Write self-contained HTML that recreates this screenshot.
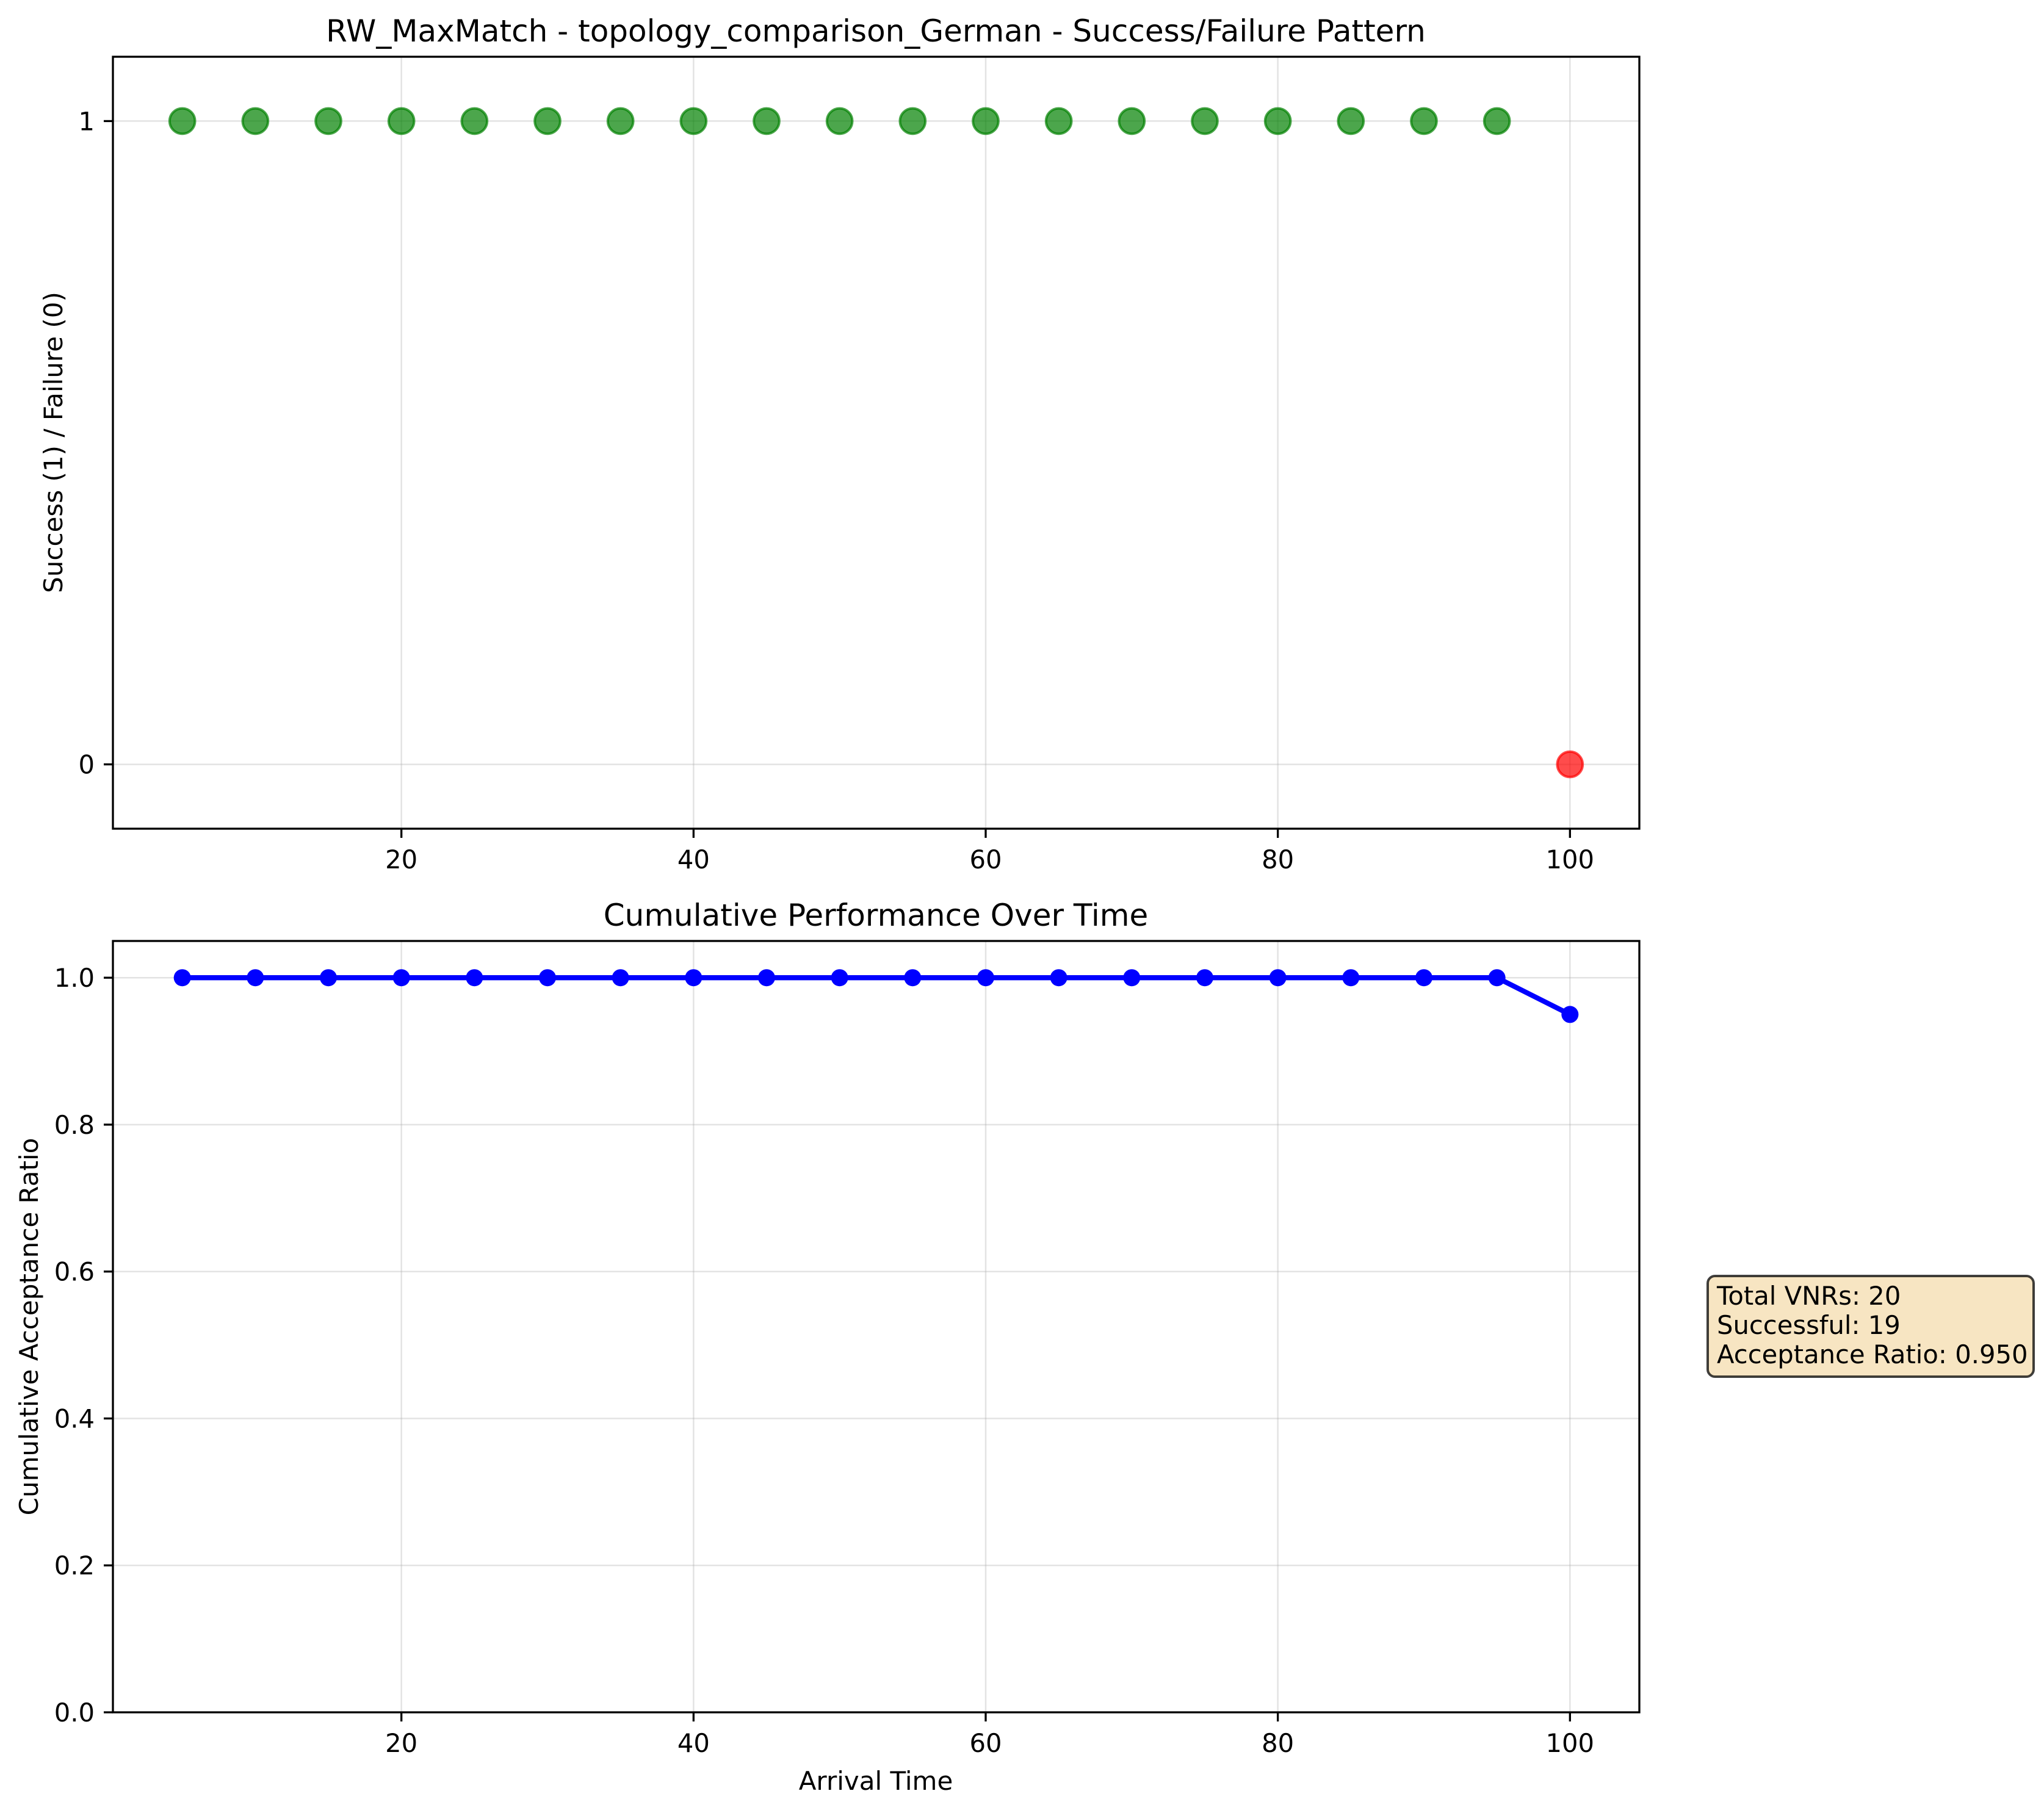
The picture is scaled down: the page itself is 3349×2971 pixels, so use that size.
<!DOCTYPE html>
<html><head><meta charset="utf-8"><style>
html,body{margin:0;padding:0;background:#fff;}
svg text{font-family:"DejaVu Sans","Liberation Sans",sans-serif;fill:#000;}
</style></head><body>
<svg id="chart" width="3349" height="2966" viewBox="0 0 3349 2966" xmlns="http://www.w3.org/2000/svg">
<g id="top"></g>
<g id="bot"></g>
<text x="1435" y="68" font-size="50" text-anchor="middle">RW_MaxMatch - topology_comparison_German - Success/Failure Pattern</text>
<text x="1435" y="1517" font-size="50" text-anchor="middle">Cumulative Performance Over Time</text>
<text transform="translate(102,725) rotate(-90)" font-size="42" text-anchor="middle">Success (1) / Failure (0)</text>
<text transform="translate(62,2174) rotate(-90)" font-size="42" text-anchor="middle">Cumulative Acceptance Ratio</text>
<text x="1435" y="2933" font-size="42" text-anchor="middle">Arrival Time</text>
<g>
<rect x="2798" y="2091" width="534" height="165" rx="12" fill="#f5deb3" fill-opacity="0.8" stroke="#000" stroke-opacity="0.75" stroke-width="4"/>
<text x="2813" y="2138" font-size="41.7">Total VNRs: 20</text>
<text x="2813" y="2186" font-size="41.7">Successful: 19</text>
<text x="2813" y="2234" font-size="41.7">Acceptance Ratio: 0.950</text>
</g>
</svg>
<script>
const arrivalTimes=[5,10,15,20,25,30,35,40,45,50,55,60,65,70,75,80,85,90,95,100];
const successValues=[1,1,1,1,1,1,1,1,1,1,1,1,1,1,1,1,1,1,1,0];
const cumulativeRatio=[1,1,1,1,1,1,1,1,1,1,1,1,1,1,1,1,1,1,1,0.95];
const xTicks=[20,40,60,80,100];
const topYTicks=[0,1];
const botYTicks=[0.0,0.2,0.4,0.6,0.8,1.0];
const botYTickLabels=["0.0","0.2","0.4","0.6","0.8","1.0"];

const NS="http://www.w3.org/2000/svg";
const L=185,R=2686;
const xmin=0.25,xmax=104.75;
function X(v){return L+(v-xmin)/(xmax-xmin)*(R-L);}
const T1=93,B1=1358,ty0=-0.1,ty1=1.1;
function Y1(v){return B1-(v-ty0)/(ty1-ty0)*(B1-T1);}
const T2=1542,B2=2806,by0=0,by1=1.05;
function Y2(v){return B2-(v-by0)/(by1-by0)*(B2-T2);}
function mk(p,tag,attrs){const e=document.createElementNS(NS,tag);for(const k in attrs)e.setAttribute(k,attrs[k]);p.appendChild(e);return e;}

function axes(g,T,B,Y,yt,ytl){
  for(const t of xTicks){
    const gl=mk(g,'line',{x1:X(t),x2:X(t),y1:T,y2:B,stroke:'#b0b0b0','stroke-opacity':0.35,'stroke-width':2.5});
    
    
  }
  yt.forEach((t,i)=>{
    const gl=mk(g,'line',{x1:L,x2:R,y1:Y(t),y2:Y(t),stroke:'#b0b0b0','stroke-opacity':0.35,'stroke-width':2.5});
    
    
    const tk=mk(g,'line',{x1:L-15,x2:L,y1:Y(t),y2:Y(t),stroke:'#000','stroke-width':3.3});
    
    
    const tx=mk(g,'text',{x:L-30,y:Y(t)+15,'font-size':41.7,'text-anchor':'end'});
    tx.textContent=ytl[i];
    
    
  });
  for(const t of xTicks){
    const tk=mk(g,'line',{x1:X(t),x2:X(t),y1:B,y2:B+15,stroke:'#000','stroke-width':3.3});
    
    
    const tx=mk(g,'text',{x:X(t),y:B+65,'font-size':41.7,'text-anchor':'middle'});
    tx.textContent=String(t);
    
    
  }
}
function frame(g,T,B){
  const r=mk(g,'rect',{x:L,y:T,width:R-L,height:B-T,fill:'none',stroke:'#000','stroke-width':3.3});
  
  
}
const gt=document.getElementById('top'),gb=document.getElementById('bot');
axes(gt,T1,B1,Y1,topYTicks,topYTicks.map(String));
axes(gb,T2,B2,Y2,botYTicks,botYTickLabels);

arrivalTimes.forEach((t,i)=>{
  const s=successValues[i];
  const c=mk(gt,'circle',{cx:X(t),cy:Y1(s),r:20.8,fill:s?'green':'red','fill-opacity':0.7,stroke:s?'green':'red','stroke-opacity':0.7,'stroke-width':4});
  
  
});
const pts=arrivalTimes.map((t,i)=>X(t)+','+Y2(cumulativeRatio[i])).join(' ');
const pl=mk(gb,'polyline',{points:pts,fill:'none',stroke:'blue','stroke-width':8.3,'stroke-linejoin':'round'});


arrivalTimes.forEach((t,i)=>{
  const c=mk(gb,'circle',{cx:X(t),cy:Y2(cumulativeRatio[i]),r:14,fill:'blue'});
  
  
});
frame(gt,T1,B1);
frame(gb,T2,B2);
</script>
</body></html>
